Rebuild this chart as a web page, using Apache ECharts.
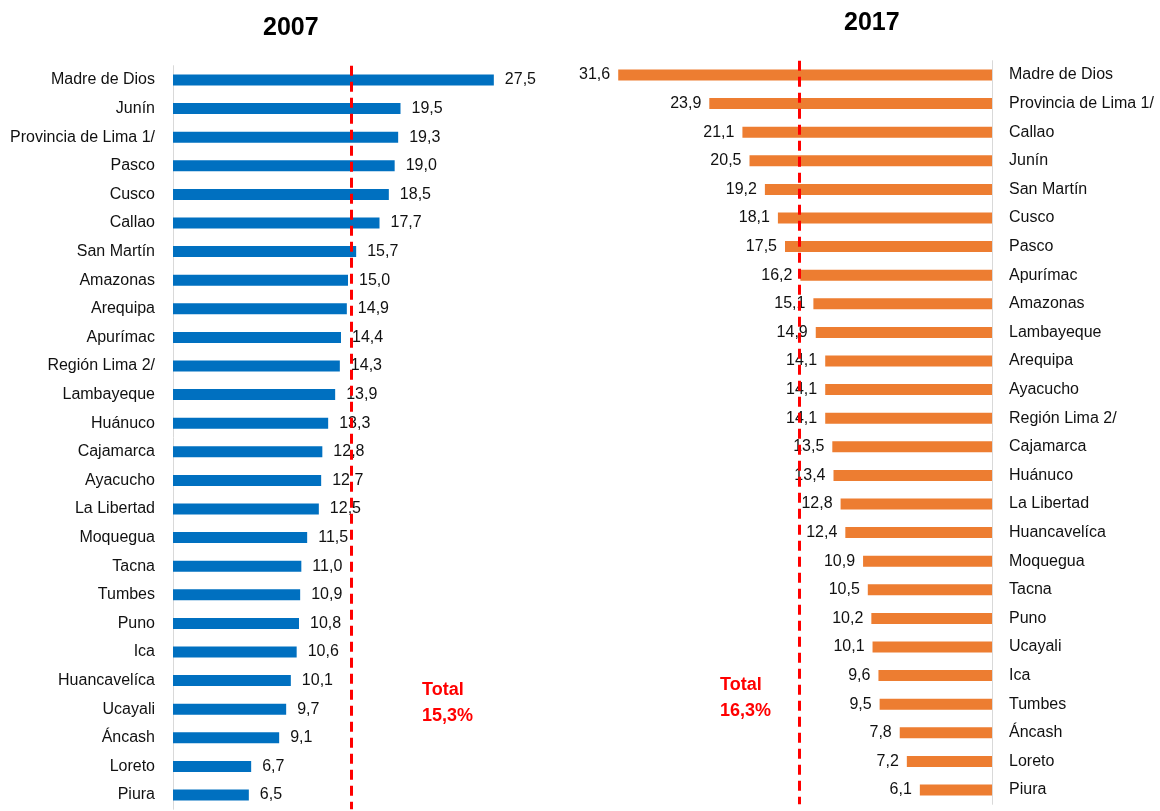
<!DOCTYPE html>
<html>
<head>
<meta charset="utf-8">
<script src="https://cdn.jsdelivr.net/npm/echarts@6/dist/echarts.min.js"></script>
<style>
html,body{margin:0;padding:0;background:#fff;}
#chart{width:1160px;height:811px;}
</style>
</head>
<body>
<div id="chart"></div>
<script>
var categories2007 = ['Madre de Dios','Junín','Provincia de Lima 1/','Pasco','Cusco','Callao','San Martín','Amazonas','Arequipa','Apurímac','Región Lima 2/','Lambayeque','Huánuco','Cajamarca','Ayacucho','La Libertad','Moquegua','Tacna','Tumbes','Puno','Ica','Huancavelíca','Ucayali','Áncash','Loreto','Piura'];
var values2007 = [27.5,19.5,19.3,19.0,18.5,17.7,15.7,15.0,14.9,14.4,14.3,13.9,13.3,12.8,12.7,12.5,11.5,11.0,10.9,10.8,10.6,10.1,9.7,9.1,6.7,6.5];
var total2007 = 15.3;

var categories2017 = ['Madre de Dios','Provincia de Lima 1/','Callao','Junín','San Martín','Cusco','Pasco','Apurímac','Amazonas','Lambayeque','Arequipa','Ayacucho','Región Lima 2/','Cajamarca','Huánuco','La Libertad','Huancavelíca','Moquegua','Tacna','Puno','Ucayali','Ica','Tumbes','Áncash','Loreto','Piura'];
var values2017 = [31.6,23.9,21.1,20.5,19.2,18.1,17.5,16.2,15.1,14.9,14.1,14.1,14.1,13.5,13.4,12.8,12.4,10.9,10.5,10.2,10.1,9.6,9.5,7.8,7.2,6.1];
var total2017 = 16.3;

var FONT = "'Liberation Sans',Arial,sans-serif";
function fmt(v){ return v.toFixed(1).replace('.', ','); }
function fmtTotal(v){ return 'Total\n' + fmt(v) + '%'; }

var chart = echarts.init(document.getElementById('chart'), null, {renderer:'canvas'});

var markLineCommon = function(val){
  return {
    silent: true,
    symbol: ['none','none'],
    label: {show:false},
    lineStyle: {color:'#ff0000', type:[10,6], width:3},
    data: [{xAxis: val}]
  };
};

var option = {
  backgroundColor: '#ffffff',
  animation: false,
  title: [
    {text:'2007', left:258, top:11, textStyle:{fontFamily:FONT, fontSize:25, fontWeight:'bold', color:'#000'}},
    {text:'2017', left:839, top:6, textStyle:{fontFamily:FONT, fontSize:25, fontWeight:'bold', color:'#000'}}
  ],
  grid: [
    {left:173, top:65.7, width:350, height:743.6, containLabel:false, outerBoundsMode:'none'},
    {left:578, top:60.7, width:414, height:743.6, containLabel:false, outerBoundsMode:'none'}
  ],
  xAxis: [
    {gridIndex:0, type:'value', min:0, max:30, show:false},
    {gridIndex:1, type:'value', min:0, max:35, inverse:true, show:false}
  ],
  yAxis: [
    {gridIndex:0, type:'category', data:categories2007, inverse:true,
     axisLine:{show:true, lineStyle:{color:'#d9d9d9', width:1}},
     axisTick:{show:false},
     axisLabel:{fontFamily:FONT, fontSize:16, color:'#111', margin:18}},
    {gridIndex:1, type:'category', data:categories2017, inverse:true, position:'right',
     axisLine:{show:true, lineStyle:{color:'#d9d9d9', width:1}},
     axisTick:{show:false},
     axisLabel:{fontFamily:FONT, fontSize:16, color:'#111', margin:17}}
  ],
  series: [
    {type:'bar', xAxisIndex:0, yAxisIndex:0, data:values2007, barWidth:11,
     itemStyle:{color:'#0070c0'},
     label:{show:true, position:'right', distance:11, fontFamily:FONT, fontSize:16, color:'#111',
            formatter:function(p){return fmt(p.value);}},
     markLine: markLineCommon(total2007)},
    {type:'bar', xAxisIndex:1, yAxisIndex:1, data:values2017, barWidth:11,
     itemStyle:{color:'#ed7d31'},
     label:{show:true, position:'left', distance:8, fontFamily:FONT, fontSize:16, color:'#111',
            formatter:function(p){return fmt(p.value);}},
     markLine: markLineCommon(total2017)}
  ],
  graphic: [
    {type:'text', left:422, top:677, style:{text:fmtTotal(total2007), fill:'#ff0000', font:"bold 18px " + FONT, lineHeight:26}},
    {type:'text', left:720, top:672, style:{text:fmtTotal(total2017), fill:'#ff0000', font:"bold 18px " + FONT, lineHeight:26}}
  ]
};
chart.setOption(option);
</script>
</body>
</html>
